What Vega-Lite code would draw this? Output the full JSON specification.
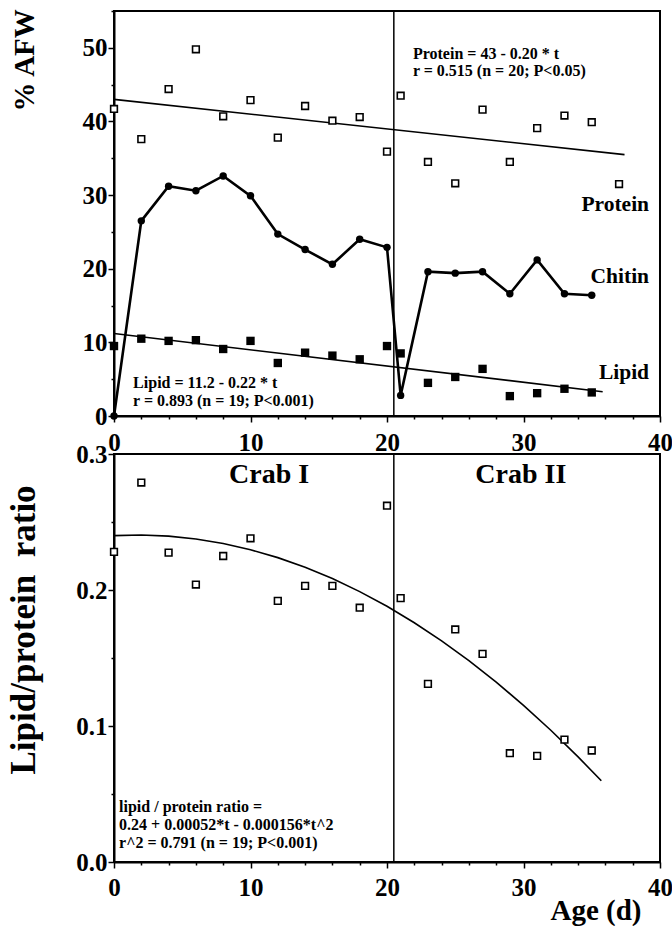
{
  "$schema": "https://vega.github.io/schema/vega-lite/v6.json",
  "background": "white",
  "padding": {"left": 4, "top": 6, "right": 0, "bottom": 0},
  "spacing": 38,
  "bounds": "flush",
  "config": {
    "font": "Liberation Serif",
    "view": {"stroke": "black", "strokeWidth": 2},
    "axis": {
      "grid": false,
      "domainColor": "black",
      "domainWidth": 2,
      "tickColor": "black",
      "tickWidth": 1.5,
      "labelColor": "black",
      "labelFont": "Liberation Serif",
      "labelFontWeight": "bold",
      "labelFontSize": 25,
      "titleColor": "black",
      "titleFont": "Liberation Serif",
      "titleFontWeight": "bold"
    }
  },
  "datasets": {
    "protein": [
      {"t": 0, "v": 41.7}, {"t": 2, "v": 37.6}, {"t": 4, "v": 44.4}, {"t": 6, "v": 49.8},
      {"t": 8, "v": 40.7}, {"t": 10, "v": 42.9}, {"t": 12, "v": 37.8}, {"t": 14, "v": 42.1},
      {"t": 16, "v": 40.1}, {"t": 18, "v": 40.6}, {"t": 20, "v": 35.9}, {"t": 21, "v": 43.5},
      {"t": 23, "v": 34.5}, {"t": 25, "v": 31.6}, {"t": 27, "v": 41.6}, {"t": 29, "v": 34.5},
      {"t": 31, "v": 39.1}, {"t": 33, "v": 40.8}, {"t": 35, "v": 39.9}, {"t": 37, "v": 31.5}
    ],
    "chitin": [
      {"t": 0, "v": 0}, {"t": 2, "v": 26.5}, {"t": 4, "v": 31.2}, {"t": 6, "v": 30.6},
      {"t": 8, "v": 32.6}, {"t": 10, "v": 29.9}, {"t": 12, "v": 24.7}, {"t": 14, "v": 22.6},
      {"t": 16, "v": 20.6}, {"t": 18, "v": 24.0}, {"t": 20, "v": 22.9}, {"t": 21, "v": 2.8},
      {"t": 23, "v": 19.6}, {"t": 25, "v": 19.4}, {"t": 27, "v": 19.6}, {"t": 29, "v": 16.6},
      {"t": 31, "v": 21.2}, {"t": 33, "v": 16.6}, {"t": 35, "v": 16.4}
    ],
    "lipid": [
      {"t": 0, "v": 9.5}, {"t": 2, "v": 10.5}, {"t": 4, "v": 10.2}, {"t": 6, "v": 10.3},
      {"t": 8, "v": 9.1}, {"t": 10, "v": 10.2}, {"t": 12, "v": 7.2}, {"t": 14, "v": 8.6},
      {"t": 16, "v": 8.2}, {"t": 18, "v": 7.7}, {"t": 20, "v": 9.5}, {"t": 21, "v": 8.5},
      {"t": 23, "v": 4.5}, {"t": 25, "v": 5.3}, {"t": 27, "v": 6.4}, {"t": 29, "v": 2.7},
      {"t": 31, "v": 3.1}, {"t": 33, "v": 3.7}, {"t": 35, "v": 3.2}
    ],
    "proteinFit": [{"t": 0, "v": 43}, {"t": 37.4, "v": 35.5}],
    "lipidFit": [{"t": 0, "v": 11.2}, {"t": 35.8, "v": 3.3}],
    "topDivider": [{"t": 20.5, "v": 0, "v2": 55}],
    "topEquations": [
      {"t": 21.9, "v": 48.5, "text": "Protein = 43 - 0.20 * t"},
      {"t": 21.9, "v": 46.2, "text": "r = 0.515 (n = 20; P<0.05)"},
      {"t": 1.4, "v": 3.85, "text": "Lipid = 11.2 - 0.22 * t"},
      {"t": 1.4, "v": 1.4, "text": "r = 0.893 (n = 19; P<0.001)"}
    ],
    "seriesLabels": [
      {"t": 39.2, "v": 27.9, "text": "Protein"},
      {"t": 39.2, "v": 18.1, "text": "Chitin"},
      {"t": 39.2, "v": 5.0, "text": "Lipid"}
    ],
    "ratio": [
      {"t": 0, "v": 0.228}, {"t": 2, "v": 0.279}, {"t": 4, "v": 0.2275}, {"t": 6, "v": 0.204},
      {"t": 8, "v": 0.225}, {"t": 10, "v": 0.238}, {"t": 12, "v": 0.192}, {"t": 14, "v": 0.203},
      {"t": 16, "v": 0.203}, {"t": 18, "v": 0.187}, {"t": 20, "v": 0.262}, {"t": 21, "v": 0.194},
      {"t": 23, "v": 0.131}, {"t": 25, "v": 0.171}, {"t": 27, "v": 0.153}, {"t": 29, "v": 0.080},
      {"t": 31, "v": 0.078}, {"t": 33, "v": 0.090}, {"t": 35, "v": 0.082}
    ],
    "ratioFit": [
      {"t": 0, "v": 0.240}, {"t": 2, "v": 0.2404}, {"t": 4, "v": 0.2396}, {"t": 6, "v": 0.2375},
      {"t": 8, "v": 0.2342}, {"t": 10, "v": 0.2296}, {"t": 12, "v": 0.2238}, {"t": 14, "v": 0.2167},
      {"t": 16, "v": 0.2084}, {"t": 18, "v": 0.1988}, {"t": 20, "v": 0.188}, {"t": 22, "v": 0.1759},
      {"t": 24, "v": 0.1626}, {"t": 26, "v": 0.1481}, {"t": 28, "v": 0.1323}, {"t": 30, "v": 0.1152},
      {"t": 32, "v": 0.0969}, {"t": 34, "v": 0.0773}, {"t": 35.7, "v": 0.0597}
    ],
    "bottomDivider": [{"t": 20.5, "v": 0, "v2": 0.3}],
    "crabLabels": [
      {"t": 11.36, "v": 0.2787, "text": "Crab I"},
      {"t": 29.8, "v": 0.2787, "text": "Crab II"}
    ],
    "bottomEquation": [
      {"t": 0.37, "v": 0.0365, "text": "lipid / protein  ratio ="},
      {"t": 0.37, "v": 0.0233, "text": "0.24 + 0.00052*t - 0.000156*t^2"},
      {"t": 0.37, "v": 0.0103, "text": "r^2 = 0.791 (n = 19; P<0.001)"}
    ]
  },
  "vconcat": [
    {
      "width": 546,
      "height": 405,
      "encoding": {
        "x": {
          "field": "t", "type": "quantitative",
          "scale": {"domain": [0, 40], "nice": false, "zero": false},
          "axis": {
            "title": null,
            "values": [0, 2, 4, 6, 8, 10, 12, 14, 16, 18, 20, 22, 24, 26, 28, 30, 32, 34, 36, 38, 40],
            "labelExpr": "datum.value % 10 === 0 ? datum.label : ''",
            "tickSize": {"condition": {"test": "datum.value % 10 === 0", "value": 6}, "value": 3},
            "labelPadding": 8,
            "labelFlush": false
          }
        },
        "y": {
          "field": "v", "type": "quantitative",
          "scale": {"domain": [0, 55], "nice": false},
          "axis": {
            "title": "% AFW",
            "titleFontSize": 29,
            "titleAngle": 270,
            "titleAlign": "left",
            "titleBaseline": "alphabetic",
            "titleX": -81,
            "titleY": 100,
            "values": [0, 5, 10, 15, 20, 25, 30, 35, 40, 45, 50, 55],
            "labelExpr": "datum.value % 10 === 0 ? datum.label : ''",
            "tickSize": {"condition": {"test": "datum.value % 10 === 0", "value": 6}, "value": 3},
            "labelPadding": 1,
            "labelFlush": false
          }
        }
      },
      "layer": [
        {"data": {"name": "topDivider"}, "mark": {"type": "rule", "color": "black", "strokeWidth": 1.5}, "encoding": {"y2": {"field": "v2"}}},
        {"data": {"name": "proteinFit"}, "mark": {"type": "line", "color": "black", "strokeWidth": 1.6}},
        {"data": {"name": "lipidFit"}, "mark": {"type": "line", "color": "black", "strokeWidth": 1.6}},
        {"data": {"name": "chitin"}, "mark": {"type": "line", "color": "black", "strokeWidth": 2.6}},
        {"data": {"name": "chitin"}, "mark": {"type": "point", "shape": "circle", "filled": true, "color": "black", "size": 55, "opacity": 1}},
        {"data": {"name": "lipid"}, "mark": {"type": "point", "shape": "square", "filled": true, "color": "black", "size": 70, "opacity": 1}},
        {"data": {"name": "protein"}, "mark": {"type": "point", "shape": "square", "filled": true, "fill": "white", "stroke": "black", "strokeWidth": 1.6, "size": 45, "opacity": 1}},
        {"data": {"name": "topEquations"}, "mark": {"type": "text", "align": "left", "baseline": "alphabetic", "fontSize": 16, "fontWeight": "bold", "color": "black"}, "encoding": {"text": {"field": "text"}}},
        {"data": {"name": "seriesLabels"}, "mark": {"type": "text", "align": "right", "baseline": "alphabetic", "fontSize": 21.5, "fontWeight": "bold", "color": "black"}, "encoding": {"text": {"field": "text"}}}
      ]
    },
    {
      "width": 546,
      "height": 408,
      "encoding": {
        "x": {
          "field": "t", "type": "quantitative",
          "scale": {"domain": [0, 40], "nice": false, "zero": false},
          "axis": {
            "title": "Age (d)",
            "titleFontSize": 29,
            "titleAlign": "right",
            "titleAnchor": "end",
            "titleBaseline": "alphabetic",
            "titleX": 527,
            "titleY": 57,
            "values": [0, 2, 4, 6, 8, 10, 12, 14, 16, 18, 20, 22, 24, 26, 28, 30, 32, 34, 36, 38, 40],
            "labelExpr": "datum.value % 10 === 0 ? datum.label : ''",
            "tickSize": {"condition": {"test": "datum.value % 10 === 0", "value": 6}, "value": 3},
            "labelPadding": 7,
            "labelFlush": false
          }
        },
        "y": {
          "field": "v", "type": "quantitative",
          "scale": {"domain": [0, 0.3], "nice": false},
          "axis": {
            "title": "Lipid/protein\u00a0\u00a0ratio",
            "titleFontSize": 35,
            "titleAngle": 270,
            "titleAlign": "left",
            "titleBaseline": "alphabetic",
            "titleX": -80,
            "titleY": 320,
            "values": [0, 0.05, 0.1, 0.15, 0.2, 0.25, 0.3],
            "labelExpr": "abs(datum.value * 10 - round(datum.value * 10)) < 1e-6 ? format(datum.value, '.1f') : ''",
            "tickSize": {"condition": {"test": "abs(datum.value * 10 - round(datum.value * 10)) < 1e-6", "value": 6}, "value": 3},
            "labelPadding": 1,
            "labelFlush": false
          }
        }
      },
      "layer": [
        {"data": {"name": "bottomDivider"}, "mark": {"type": "rule", "color": "black", "strokeWidth": 1.5}, "encoding": {"y2": {"field": "v2"}}},
        {"data": {"name": "ratioFit"}, "mark": {"type": "line", "color": "black", "strokeWidth": 1.6}},
        {"data": {"name": "ratio"}, "mark": {"type": "point", "shape": "square", "filled": true, "fill": "white", "stroke": "black", "strokeWidth": 1.6, "size": 45, "opacity": 1}},
        {"data": {"name": "crabLabels"}, "mark": {"type": "text", "align": "center", "baseline": "alphabetic", "fontSize": 28, "fontWeight": "bold", "color": "black"}, "encoding": {"text": {"field": "text"}}},
        {"data": {"name": "bottomEquation"}, "mark": {"type": "text", "align": "left", "baseline": "alphabetic", "fontSize": 16, "fontWeight": "bold", "color": "black"}, "encoding": {"text": {"field": "text"}}}
      ]
    }
  ]
}
